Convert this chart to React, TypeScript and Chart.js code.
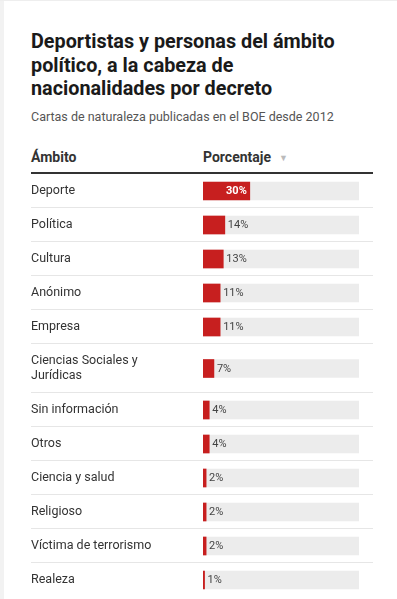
import React, { useEffect, useRef } from "react";
import { Chart, registerables } from "chart.js";

Chart.register(...registerables);

const TITLE_LINES = ["Deportistas y personas del ámbito", "político, a la cabeza de", "nacionalidades por decreto"];
const SUBTITLE = "Cartas de naturaleza publicadas en el BOE desde 2012";
const HEAD_LABEL = "Ámbito";
const HEAD_VALUE = "Porcentaje";

const categories: (string | string[])[] = [
  "Deporte",
  "Política",
  "Cultura",
  "Anónimo",
  "Empresa",
  ["Ciencias Sociales y", "Jurídicas"],
  "Sin información",
  "Otros",
  "Ciencia y salud",
  "Religioso",
  "Víctima de terrorismo",
  "Realeza",
];
const values = [30, 14, 13, 11, 11, 7, 4, 4, 2, 2, 2, 1];
const valueLabels = ["30%", "14%", "13%", "11%", "11%", "7%", "4%", "4%", "2%", "2%", "2%", "1%"];

const RED = "#c71f1f";
const TRACK = "#ececec";
const FONT = "Roboto, 'Noto Sans', sans-serif";

export default function App() {
  const ref = useRef<HTMLCanvasElement | null>(null);

  useEffect(() => {
    const canvas = ref.current;
    if (!canvas) return;
    // row layout: height per row depends on number of label lines
    const heights = categories.map((c) => 19 + 15 * (Array.isArray(c) ? c.length : 1));
    const bounds: number[] = [];
    const centers: number[] = [];
    let acc = 0;
    heights.forEach((h) => {
      centers.push(acc + h / 2);
      acc += h;
      bounds.push(acc);
    });
    const total = acc;

    const rowsPlugin = {
      id: "rows",
      beforeDatasetsDraw(chart: any) {
        const ctx = chart.ctx;
        const y = chart.scales.y;
        ctx.save();
        ctx.strokeStyle = "#e6e6e6";
        ctx.lineWidth = 1;
        bounds.slice(0, -1).forEach((b) => {
          const py = Math.round(y.getPixelForValue(b)) - 0.5;
          ctx.beginPath();
          ctx.moveTo(0, py);
          ctx.lineTo(chart.width, py);
          ctx.stroke();
        });
        ctx.restore();
      },
      afterDatasetsDraw(chart: any) {
        const ctx = chart.ctx;
        const meta = chart.getDatasetMeta(1);
        ctx.save();
        ctx.textBaseline = "middle";
        meta.data.forEach((bar: any, i: number) => {
          const v = values[i];
          if (v >= 20) {
            ctx.font = `bold 11px ${FONT}`;
            ctx.fillStyle = "#ffffff";
            ctx.textAlign = "right";
            ctx.fillText(valueLabels[i], bar.x - 3, bar.y + 0.5);
          } else {
            ctx.font = `11px ${FONT}`;
            ctx.fillStyle = "#444444";
            ctx.textAlign = "left";
            ctx.fillText(valueLabels[i], bar.x + 3, bar.y + 0.5);
          }
        });
        ctx.restore();
      },
    };

    const chart = new Chart(canvas, {
      type: "bar",
      data: {
        datasets: [
          {
            label: "track",
            data: centers.map((c) => ({ x: 100, y: c })),
            backgroundColor: TRACK,
            barThickness: 18,
            grouped: false,
            order: 2,
          } as any,
          {
            label: HEAD_VALUE,
            data: values.map((v, i) => ({ x: v, y: centers[i] })),
            backgroundColor: RED,
            barThickness: 18,
            grouped: false,
            order: 1,
          } as any,
        ],
      },
      options: {
        indexAxis: "y",
        responsive: false,
        animation: false,
        devicePixelRatio: 1,
        layout: { padding: { left: 0, right: 14, top: 0, bottom: 0 } },
        plugins: { legend: { display: false }, tooltip: { enabled: false }, title: { display: false } },
        scales: {
          x: { type: "linear", min: 0, max: 100, display: false },
          y: {
            type: "linear",
            min: 0,
            max: total,
            reverse: true,
            offset: false,
            grid: { display: false, offset: false },
            border: { display: false },
            afterBuildTicks: (scale: any) => {
              scale.ticks = centers.map((c) => ({ value: c }));
            },
            afterFit: (scale: any) => {
              scale.width = 172;
              scale.paddingTop = 0;
              scale.paddingBottom = 0;
            },
            ticks: {
              autoSkip: false,
              crossAlign: "far",
              padding: 0,
              color: "#333333",
              font: { family: FONT, size: 12.5, lineHeight: 1.25 },
              callback: (_v: any, i: number) => categories[i] as any,
            },
          } as any,
        },
      },
      plugins: [rowsPlugin],
    });
    return () => chart.destroy();
  }, []);

  return (
    <div
      style={{
        position: "absolute",
        left: 0,
        top: 0,
        width: 397,
        height: 599,
        background: "#ffffff",
        overflow: "hidden",
        fontFamily: FONT,
      }}
    >
      <div style={{ position: "absolute", left: 0, top: 0, width: 4, height: 599, background: "#f2f2f2" }} />
      <div style={{ position: "absolute", left: 0, top: 0, width: 397, height: 1, background: "#eeeeee" }} />
      <div
        style={{
          position: "absolute",
          left: 31,
          top: 30,
          width: 350,
          fontSize: 19.8,
          fontWeight: 700,
          lineHeight: "23.5px",
          color: "#1a1a1a",
        }}
      >
        {TITLE_LINES.map((l, i) => (
          <div key={i}>{l}</div>
        ))}
      </div>
      <div
        style={{ position: "absolute", left: 31, top: 109, fontSize: 12.5, lineHeight: "16px", color: "#555555", whiteSpace: "nowrap" }}
      >
        {SUBTITLE}
      </div>
      <div
        style={{
          position: "absolute",
          left: 31,
          top: 149,
          fontSize: 14,
          fontWeight: 700,
          lineHeight: "16px",
          color: "#333333",
        }}
      >
        {HEAD_LABEL}
      </div>
      <div
        style={{
          position: "absolute",
          left: 203,
          top: 149,
          fontSize: 14,
          fontWeight: 700,
          lineHeight: "16px",
          color: "#333333",
          whiteSpace: "nowrap",
        }}
      >
        {HEAD_VALUE}
        <span style={{ marginLeft: 8, fontSize: 9, color: "#bbbbbb", verticalAlign: "1px" }}>▼</span>
      </div>
      <div style={{ position: "absolute", left: 31, top: 172, width: 342, height: 1.5, background: "#333333" }} />
      <canvas
        ref={ref}
        width={342}
        height={423}
        style={{ position: "absolute", left: 31, top: 174, width: 342, height: 423 }}
      />
    </div>
  );
}
